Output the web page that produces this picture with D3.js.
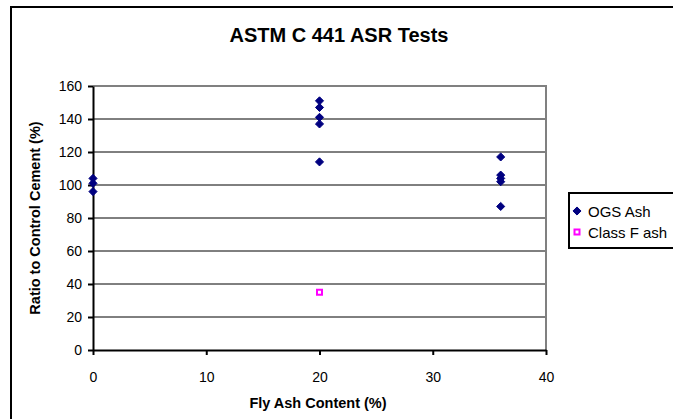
<!DOCTYPE html>
<html>
<head>
<meta charset="utf-8">
<script src="https://cdn.jsdelivr.net/npm/d3@7"></script>
<style>
  html, body { margin: 0; padding: 0; background: #fff; }
  svg { display: block; font-family: Arial, "Liberation Sans", sans-serif; }
</style>
</head>
<body>
<svg id="chart" width="673" height="419"></svg>
<script>
// Fly ash content (%) and expansion ratio to control cement (%)
const ogsX = [0, 0, 0, 20, 20, 20, 20, 20, 36, 36, 36, 36, 36];
const ogsY = [104, 101, 96, 151, 147, 141, 137, 114, 117, 106, 104, 102, 87];
const classFX = [20];
const classFY = [35];
const xTicks = [0, 10, 20, 30, 40];
const yTicks = [0, 20, 40, 60, 80, 100, 120, 140, 160];
const seriesNames = ["OGS Ash", "Class F ash"];

const svg = d3.select("#chart");
const W = 673, H = 419;
const plot = { left: 93, right: 546, top: 86, bottom: 350 };
const FONT = "Arial, 'Liberation Sans', sans-serif";

// Outer chart frame (runs off the right and bottom edges)
svg.append("rect")
  .attr("x", 11).attr("y", 7)
  .attr("width", W).attr("height", H)
  .attr("fill", "none").attr("stroke", "#000").attr("stroke-width", 2);

const x = d3.scaleLinear().domain([0, 40]).range([plot.left, plot.right]);
const y = d3.scaleLinear().domain([0, 160]).range([plot.bottom, plot.top]);

// Horizontal gridlines
svg.append("g")
  .selectAll("line")
  .data(yTicks.filter(d => d > 0 && d < 160))
  .join("line")
  .attr("x1", plot.left).attr("x2", plot.right)
  .attr("y1", d => y(d)).attr("y2", d => y(d))
  .attr("stroke", "#000").attr("stroke-width", 1);

// Plot area border (top and right) in grey
svg.append("path")
  .attr("d", `M${plot.left},${y(160)}H${plot.right}V${plot.bottom}`)
  .attr("fill", "none").attr("stroke", "#808080").attr("stroke-width", 2);

// Y axis
const yAxis = svg.append("g")
  .attr("transform", `translate(${plot.left},0)`)
  .call(d3.axisLeft(y).tickValues(yTicks).tickSize(5).tickPadding(6).tickSizeOuter(0));
yAxis.select(".domain").attr("stroke", "#000").attr("stroke-width", 2);
yAxis.selectAll(".tick line").attr("stroke", "#000").attr("stroke-width", 2);
yAxis.selectAll(".tick text").attr("font-size", 14).attr("fill", "#000")
  .attr("font-family", FONT);

// X axis
const xAxis = svg.append("g")
  .attr("transform", `translate(0,${plot.bottom})`)
  .call(d3.axisBottom(x).tickValues(xTicks).tickSize(5).tickPadding(17).tickSizeOuter(0));
xAxis.select(".domain").attr("stroke", "#000").attr("stroke-width", 2);
xAxis.selectAll(".tick line").attr("stroke", "#000").attr("stroke-width", 2);
xAxis.selectAll(".tick text").attr("font-size", 14).attr("fill", "#000")
  .attr("font-family", FONT);

// Titles
svg.append("text")
  .attr("x", 339).attr("y", 42)
  .attr("text-anchor", "middle")
  .attr("font-size", 20).attr("font-weight", "bold")
  .text("ASTM C 441 ASR Tests");

svg.append("text")
  .attr("x", 318).attr("y", 408)
  .attr("text-anchor", "middle")
  .attr("font-size", 14.5).attr("font-weight", "bold")
  .text("Fly Ash Content (%)");

svg.append("text")
  .attr("transform", `translate(40,${(plot.top + plot.bottom) / 2}) rotate(-90)`)
  .attr("text-anchor", "middle")
  .attr("font-size", 14.5).attr("font-weight", "bold")
  .text("Ratio to Control Cement (%)");

// Markers
const diamond = d3.symbol().type(d3.symbolDiamond2).size(42);

svg.append("g")
  .selectAll("path")
  .data(ogsX.map((d, i) => [d, ogsY[i]]))
  .join("path")
  .attr("d", diamond)
  .attr("transform", d => `translate(${x(d[0])},${y(d[1])})`)
  .attr("fill", "#000080").attr("stroke", "#000080").attr("stroke-width", 1)
  .attr("stroke-linejoin", "round");

svg.append("g")
  .selectAll("rect")
  .data(classFX.map((d, i) => [d, classFY[i]]))
  .join("rect")
  .attr("x", d => x(d[0]) - 2.5).attr("y", d => y(d[1]) - 2.5)
  .attr("width", 5).attr("height", 5)
  .attr("fill", "#fff").attr("stroke", "#ff00ff").attr("stroke-width", 2);

// Legend
const legend = svg.append("g");
legend.append("rect")
  .attr("x", 569).attr("y", 193).attr("width", 120).attr("height", 55)
  .attr("fill", "#fff").attr("stroke", "#000").attr("stroke-width", 2);

const legendRows = legend.selectAll("g.row")
  .data(seriesNames)
  .join("g").attr("class", "row")
  .attr("transform", (d, i) => `translate(577,${211 + i * 21})`);

legendRows.filter((d, i) => i === 0).append("path")
  .attr("d", diamond)
  .attr("fill", "#000080").attr("stroke", "#000080").attr("stroke-width", 1)
  .attr("stroke-linejoin", "round");
legendRows.filter((d, i) => i === 1).append("rect")
  .attr("x", -2.5).attr("y", -2.5).attr("width", 5).attr("height", 5)
  .attr("fill", "#fff").attr("stroke", "#ff00ff").attr("stroke-width", 2);

legendRows.append("text")
  .attr("x", 11).attr("y", 5.5)
  .attr("font-size", 15)
  .text(d => d);
</script>
</body>
</html>
